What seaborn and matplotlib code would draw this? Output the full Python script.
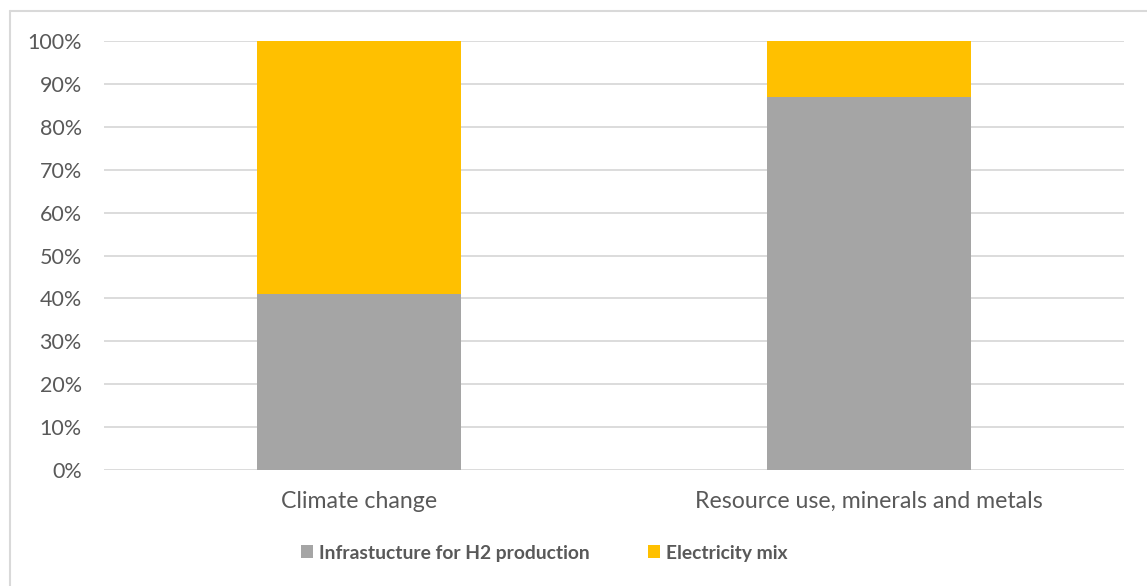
import matplotlib
matplotlib.use("Agg")
import matplotlib.pyplot as plt
from matplotlib.patches import Patch
from matplotlib.lines import Line2D
import seaborn as sns
import pandas as pd

# Share of each impact category by contributor (%)
categories = ["Climate change", "Resource use, minerals and metals"]
infrastructure = [41, 87]
electricity = [59, 13]
series_names = ["Infrastucture for H2 production", "Electricity mix"]
y_ticks = [0, 10, 20, 30, 40, 50, 60, 70, 80, 90, 100]

GREY = "#A5A5A5"
GOLD = "#FFC000"
TEXT = "#595959"
GRID = "#D9D9D9"

sns.set_theme(style="white")
plt.rcParams["font.family"] = ["Lato", "DejaVu Sans"]

df = pd.DataFrame({
    "category": categories,
    "infra": infrastructure,
    "total": [a + b for a, b in zip(infrastructure, electricity)],
})

fig = plt.figure(figsize=(11.47, 5.86), dpi=100)
W, H = 1147, 586
ax = fig.add_axes([104 / W, 1 - 470 / H, (1124 - 104) / W, (470 - 41) / H])

# Stacked bars: full stack in gold, infrastructure share drawn over it in grey
sns.barplot(data=df, x="category", y="total", color=GOLD, width=0.4,
            saturation=1, linewidth=0, ax=ax, zorder=3)
sns.barplot(data=df, x="category", y="infra", color=GREY, width=0.4,
            saturation=1, linewidth=0, ax=ax, zorder=4)

ax.set_ylim(0, 100)
ax.set_xlim(-0.5, 1.5)
ax.set_yticks(y_ticks)
ax.set_yticklabels([f"{v}%" for v in y_ticks])
ax.set_xlabel("")
ax.set_ylabel("")
ax.yaxis.grid(True, color=GRID, linewidth=1.3, zorder=0)
ax.set_axisbelow(True)
for s in ax.spines.values():
    s.set_visible(False)
ax.tick_params(axis="both", length=0, labelcolor=TEXT)
ax.tick_params(axis="y", pad=16, labelsize=15.5)
ax.tick_params(axis="x", pad=15, labelsize=16.7)

# Chart frame (top and left edges)
fig.add_artist(Line2D([10 / W, 10 / W], [0, 1 - 11 / H], transform=fig.transFigure,
                      color=GRID, linewidth=1.5))
fig.add_artist(Line2D([10 / W, 1], [1 - 11 / H, 1 - 11 / H], transform=fig.transFigure,
                      color=GRID, linewidth=1.5))

handles = [Patch(facecolor=GREY, edgecolor="none"), Patch(facecolor=GOLD, edgecolor="none")]
fig.legend(handles, series_names, loc="center", bbox_to_anchor=(544 / W, 1 - 553 / H),
           ncol=2, frameon=False, handlelength=0.65, handleheight=0.65,
           handletextpad=0.3, columnspacing=3.0,
           prop={"weight": "bold", "size": 13.9}, labelcolor=TEXT)

fig.savefig("out.png", dpi=100)
